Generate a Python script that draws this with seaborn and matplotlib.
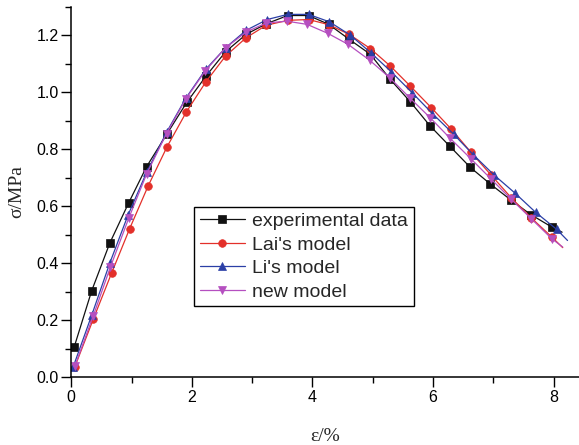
import matplotlib
matplotlib.use("Agg")
import matplotlib.pyplot as plt
import seaborn as sns
import pandas as pd
from matplotlib.ticker import MultipleLocator

# ---- data ----
exp_x = [0.05, 0.34, 0.64, 0.955, 1.25, 1.585, 1.915, 2.24, 2.56, 2.90, 3.235, 3.59, 3.935,
         4.27, 4.60, 4.96, 5.29, 5.62, 5.95, 6.28, 6.62, 6.95, 7.29, 7.62, 7.97, 8.14]
exp_y = [0.107, 0.304, 0.471, 0.613, 0.739, 0.853, 0.964, 1.058, 1.142, 1.203, 1.240, 1.269, 1.269,
         1.238, 1.187, 1.133, 1.045, 0.967, 0.882, 0.810, 0.736, 0.678, 0.622, 0.571, 0.527, 0.509]

lai_x = [0.06, 0.364, 0.67, 0.97, 1.275, 1.59, 1.91, 2.235, 2.56, 2.90, 3.235, 3.59, 3.935,
         4.27, 4.61, 4.96, 5.29, 5.625, 5.97, 6.30, 6.63, 6.96, 7.30, 7.63, 7.97, 8.15]
lai_y = [0.037, 0.203, 0.366, 0.522, 0.671, 0.809, 0.931, 1.037, 1.127, 1.191, 1.235, 1.252, 1.255,
         1.237, 1.203, 1.153, 1.092, 1.021, 0.946, 0.871, 0.789, 0.710, 0.629, 0.559, 0.492, 0.455]

li_x = [0.033, 0.34, 0.64, 0.94, 1.25, 1.58, 1.90, 2.23, 2.56, 2.90, 3.25, 3.59, 3.935,
        4.28, 4.63, 4.97, 5.31, 5.65, 5.99, 6.34, 6.67, 7.01, 7.36, 7.70, 8.05, 8.23]
li_y = [0.037, 0.218, 0.401, 0.568, 0.719, 0.859, 0.979, 1.080, 1.156, 1.217, 1.255, 1.273, 1.273,
        1.247, 1.200, 1.138, 1.071, 0.999, 0.925, 0.853, 0.780, 0.710, 0.646, 0.579, 0.519, 0.480]

new_x = [0.06, 0.364, 0.65, 0.955, 1.25, 1.58, 1.90, 2.22, 2.56, 2.90, 3.235, 3.58, 3.91,
         4.25, 4.59, 4.95, 5.28, 5.62, 5.95, 6.28, 6.63, 6.96, 7.29, 7.63, 7.97, 8.15]
new_y = [0.039, 0.215, 0.387, 0.559, 0.713, 0.855, 0.976, 1.074, 1.156, 1.211, 1.243, 1.249, 1.238,
         1.207, 1.168, 1.112, 1.051, 0.979, 0.911, 0.839, 0.766, 0.696, 0.626, 0.556, 0.486, 0.457]

labels = ["experimental data", "Lai's model", "Li's model", "new model"]
colors = ["#111111", "#e3302a", "#2b3fa6", "#b54fc0"]
markers = ["s", "o", "^", "v"]
xlabel = "ε/%"
ylabel = "σ/MPa"

sns.set_style("ticks")
plt.rcParams["font.family"] = ["Liberation Sans", "DejaVu Sans"]

fig = plt.figure(figsize=(5.79, 4.45), dpi=100)
ax = fig.add_axes([0.123, 0.152, 0.877, 0.833])

series = [(exp_x, exp_y), (lai_x, lai_y), (li_x, li_y), (new_x, new_y)]
for (xs, ys), lab, col, mk in zip(series, labels, colors, markers):
    df = pd.DataFrame({"x": xs, "y": ys})
    n = len(xs)
    sns.lineplot(data=df, x="x", y="y", ax=ax, sort=False, color=col, lw=0.9,
                 marker=mk, markersize=6 if mk in "^v" else 5.5, markeredgewidth=0.5,
                 markeredgecolor=col, markerfacecolor=col,
                 markevery=list(range(n - 1)), label=lab)

ax.set_xlim(0, 8.42)
ax.set_ylim(0, 1.3)
ax.xaxis.set_major_locator(MultipleLocator(2))
ax.xaxis.set_minor_locator(MultipleLocator(1))
ax.yaxis.set_major_locator(MultipleLocator(0.2))
ax.yaxis.set_minor_locator(MultipleLocator(0.1))
ax.set_xticks([0, 2, 4, 6, 8])
ax.set_xticklabels(["0", "2", "4", "6", "8"])
ax.set_yticks([0.0, 0.2, 0.4, 0.6, 0.8, 1.0, 1.2])
ax.set_yticklabels(["0.0", "0.2", "0.4", "0.6", "0.8", "1.0", "1.2"])

for s in ["top", "right"]:
    ax.spines[s].set_visible(False)
for s in ["left", "bottom"]:
    ax.spines[s].set_linewidth(1.1)
    ax.spines[s].set_color("black")
ax.tick_params(which="major", direction="out", length=7, width=1.0, labelsize=11.5,
               colors="black", pad=2)
ax.tick_params(which="minor", direction="out", length=4, width=1.0, colors="black")

ax.set_xlabel(xlabel, fontsize=14, family=["Liberation Serif", "DejaVu Serif"], labelpad=17)
ax.set_ylabel(ylabel, fontsize=14, family=["Liberation Serif", "DejaVu Serif"], labelpad=8)

leg = ax.legend(loc="upper left", bbox_to_anchor=(0.242, 0.460), fontsize=14,
                frameon=True, fancybox=False, framealpha=1, edgecolor="black",
                handlelength=2.3, handletextpad=0.4, labelspacing=0.3,
                borderpad=0.3, borderaxespad=0, numpoints=1)
leg.get_frame().set_linewidth(1.0)

fig.savefig("out.png", dpi=100)
